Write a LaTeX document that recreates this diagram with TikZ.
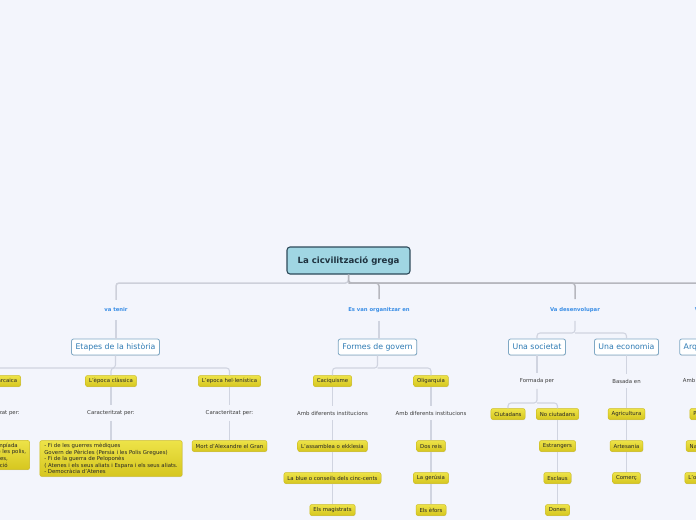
\documentclass[tikz,border=0pt]{standalone}
\usepackage{fontspec}
\setmainfont{DejaVu Sans}
\usetikzlibrary{shadows}
\definecolor{bg}{HTML}{F3F5FC}
\definecolor{rootfill}{HTML}{A0D6E3}
\definecolor{rootdraw}{HTML}{2D4A5A}
\definecolor{roottext}{HTML}{1F3340}
\definecolor{l1draw}{HTML}{7FA8C4}
\definecolor{l1text}{HTML}{2E7BB4}
\definecolor{labblue}{HTML}{3A8EE6}
\definecolor{yelA}{HTML}{EDE348}
\definecolor{yelB}{HTML}{D6C61F}
\definecolor{yeldraw}{HTML}{CDBD22}
\definecolor{plaintext}{HTML}{3C3C3C}
\definecolor{connc}{HTML}{D0D4E0}
\definecolor{barL}{HTML}{CDD0DA}
\definecolor{barR}{HTML}{B6B7BE}
\tikzset{
  rootbox/.style={draw=rootdraw, line width=1.1pt, fill=rootfill, rounded corners=3pt,
    minimum height=27pt, inner xsep=10.5pt, text=roottext,
    font=\fontsize{8.6}{9.5}\selectfont\bfseries},
  topicbox/.style={draw=l1draw, line width=0.8pt, fill=white, rounded corners=2pt,
    minimum height=16pt, inner xsep=4pt, inner ysep=2pt, text=l1text,
    font=\fontsize{7.8}{8.5}\selectfont,
    drop shadow={shadow xshift=0.4pt, shadow yshift=-0.6pt, opacity=0.25}},
  yelbox/.style={draw=yeldraw, line width=0.5pt, top color=yelA, bottom color=yelB,
    rounded corners=2pt, minimum height=11pt, inner xsep=3.5pt, inner ysep=2pt,
    text=black!85, font=\fontsize{5.4}{6.6}\selectfont,
    drop shadow={shadow xshift=0.4pt, shadow yshift=-0.6pt, opacity=0.2}},
  bluelab/.style={text=labblue, inner xsep=2pt, inner ysep=8pt,
    font=\fontsize{5.3}{6}\selectfont\bfseries},
  plainlab/.style={text=plaintext, inner xsep=2pt, inner ysep=5pt,
    font=\fontsize{5.4}{6}\selectfont},
  conn/.style={draw=connc, line width=1.1pt, rounded corners=3pt},
  barl/.style={draw=barL, line width=1.5pt, rounded corners=3pt},
  barr/.style={draw=barR, line width=1.5pt, rounded corners=3pt}
}
\begin{document}
\begin{tikzpicture}[x=1pt,y=-1pt]
\useasboundingbox (0,0) rectangle (696,520);
\fill[bg] (0,0) rectangle (696,520);
\clip (0,0) rectangle (696,520);

% root and branch labels
\node[rootbox] (root) at (348.5,260.5) {La cicvilització grega};
\node[bluelab] (lab1) at (116,310) {va tenir};
\node[bluelab] (lab2) at (379,310) {Es van organitzar en};
\node[bluelab] (lab3) at (575,310) {Va desenvolupar};
\node[bluelab] (lab4) at (713,310) {Va construir};

% level-1 topics
\node[topicbox] (et) at (115.5,347) {Etapes de la història};
\node[topicbox] (fg) at (377.5,347) {Formes de govern};
\node[topicbox] (soc) at (537,347) {Una societat};
\node[topicbox] (eco) at (626.5,347) {Una economia};
\node[topicbox] (arq) at (708,347) {Arquitectura};

% Etapes
\node[yelbox] (e1) at (-4,381) {L'època arcaica};
\node[yelbox] (e2) at (111,381) {L'època clàssica};
\node[yelbox] (e3) at (229.5,381) {L'epoca hel·lenística};
\node[plainlab] (c1) at (-4,413) {Caracteritzat per:};
\node[plainlab] (c2) at (111,413) {Caracteritzat per:};
\node[plainlab] (c3) at (229.5,413) {Caracteritzat per:};
\node[yelbox, align=left, inner ysep=2.5pt] (d1) at (-5,455) {- Primera Olimpíada\\- Formació de les polis,\\  colònies greges,\\- La colonització};
\node[yelbox, align=left, inner ysep=2.5pt, inner xsep=4.5pt] (d2) at (111,458.5) {- Fi de les guerres mèdiques\\Govern de Pèricles (Persia i les Polis Gregues)\\- Fi de la guerra de Peloponès\\( Atenes i els seus aliats i Espara i els seus aliats.\\- Democràcia d'Atenes};
\node[yelbox] (d3) at (229.5,446) {Mort d'Alexandre el Gran};

% Formes de govern
\node[yelbox] (caci) at (332.5,381) {Caciquisme};
\node[yelbox] (olig) at (431,381) {Oligarquia};
\node[plainlab] (inst1) at (332.5,413) {Amb diferents institucions};
\node[plainlab] (inst2) at (431,413) {Amb diferents institucions};
\node[yelbox] (ass) at (332.5,446) {L'assamblea o ekklesia};
\node[yelbox] (blue) at (332.5,478) {La blue o conseils dels cinc-cents};
\node[yelbox] (mag) at (332.5,510) {Els magistrats};
\node[yelbox] (reis) at (431,446) {Dos reis};
\node[yelbox] (ger) at (431,478) {La gerúsia};
\node[yelbox] (efo) at (431,510) {Els èfors};

% Societat
\node[plainlab] (form) at (537,381) {Formada per};
\node[yelbox] (ciut) at (508,414) {Ciutadans};
\node[yelbox] (noc) at (557.5,414) {No ciutadans};
\node[yelbox] (estr) at (557.5,446) {Estrangers};
\node[yelbox] (escl) at (557.5,478) {Esclaus};
\node[yelbox] (don) at (557.5,510) {Dones};

% Economia
\node[plainlab] (bas) at (626.5,381) {Basada en};
\node[yelbox] (agr) at (626.5,414) {Agricultura};
\node[yelbox] (art) at (626.5,446) {Artesania};
\node[yelbox] (com) at (626.5,478) {Comerç};

% Arquitectura
\node[plainlab] (amb) at (703,381) {Amb tres parts};
\node[yelbox] (pro) at (704,414) {Pronaos};
\node[yelbox] (nao) at (707,446) {Naos o cel·la};
\node[yelbox] (opi) at (705,478) {L'opistòdom};

% top bar
\coordinate (bar) at (348.5,283);
\draw[barl] (root.south) -- (bar) -| (lab1.north);
\draw[barr] (root.south) -- (bar) -| (lab2.north);
\draw[barr] (bar) -| (lab3.north);
\draw[barr] (bar) -| (lab4.north);

% label to topic
\draw[conn] (lab1.south) -- (lab1.south |- et.north);
\draw[conn] (lab2.south) -- (lab2.south |- fg.north);
\draw[conn] (lab3.south) -- (575,333) -| (soc.north);
\draw[conn] (575,333) -| (eco.north);
\draw[conn] (lab4.south) -- (lab4.south |- arq.north);

% Etapes fork
\draw[conn] (et.south) -- (et.south |- 0,368) -| (e1.north);
\draw[conn] (et.south |- 0,368) -| (e2.north);
\draw[conn] (et.south |- 0,368) -| (e3.north);
\draw[conn] (e1.south) -- (c1.north);
\draw[conn] (c1.south) -- (c1.south |- d1.north);
\draw[conn] (e2.south) -- (c2.north);
\draw[conn] (c2.south) -- (d2.north);
\draw[conn] (e3.south) -- (c3.north);
\draw[conn] (c3.south) -- (d3.north);

% Formes fork
\draw[conn] (fg.south) -- (fg.south |- 0,368) -| (caci.north);
\draw[conn] (fg.south |- 0,368) -| (olig.north);
\draw[conn] (caci.south) -- (inst1.north);
\draw[conn] (inst1.south) -- (ass.north);
\draw[conn] (ass.south) -- (blue.north);
\draw[conn] (blue.south) -- (mag.north);
\draw[conn] (olig.south) -- (inst2.north);
\draw[conn] (inst2.south) -- (reis.north);
\draw[conn] (reis.south) -- (ger.north);
\draw[conn] (ger.south) -- (efo.north);

% Societat
\draw[conn] (soc.south) -- (form.north);
\draw[conn] (form.south) -- (form.south |- 0,403) -| (ciut.north);
\draw[conn] (form.south |- 0,403) -| (noc.north);
\draw[conn] (noc.south) -- (estr.north);
\draw[conn] (estr.south) -- (escl.north);
\draw[conn] (escl.south) -- (don.north);

% Economia
\draw[conn] (eco.south) -- (bas.north);
\draw[conn] (bas.south) -- (agr.north);
\draw[conn] (agr.south) -- (art.north);
\draw[conn] (art.south) -- (com.north);

% Arquitectura
\draw[conn] (arq.south) -- (arq.south |- amb.north);
\draw[conn] (amb.south) -- (amb.south |- pro.north);
\draw[conn] (pro.south) -- (pro.south |- nao.north);
\draw[conn] (nao.south) -- (nao.south |- opi.north);
\end{tikzpicture}
\end{document}
